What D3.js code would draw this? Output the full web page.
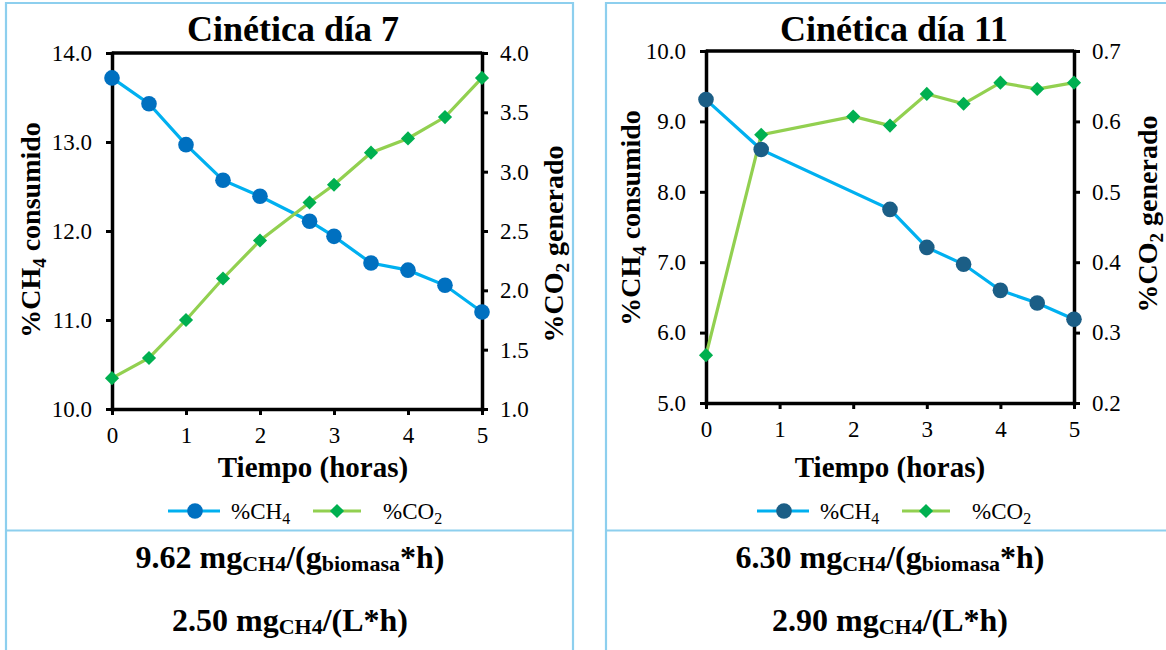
<!DOCTYPE html>
<html>
<head>
<meta charset="utf-8">
<script src="https://cdn.jsdelivr.net/npm/d3@7"></script>
<style>
  body { margin: 0; background: #fff; }
  svg { display: block; }
  svg text { font-family: "Liberation Serif", "Times New Roman", Tinos, "DejaVu Serif", serif; }
</style>
</head>
<body>
<div id="chart"></div>
<script>
let width = 1166,
    height = 650;

// Cinética día 7
const d7Time = [0, 0.5, 1, 1.5, 2, 2.67, 3, 3.5, 4, 4.5, 5];
const d7CH4 = [13.72, 13.43, 12.97, 12.57, 12.39, 12.11, 11.94, 11.64, 11.56, 11.39, 11.09];
const d7CO2 = [1.26, 1.43, 1.75, 2.10, 2.42, 2.74, 2.89, 3.16, 3.28, 3.46, 3.79];

// Cinética día 11
const d11TimeCH4 = [0, 0.75, 2.5, 3, 3.5, 4, 4.5, 5];
const d11CH4 = [9.31, 8.60, 7.75, 7.21, 6.97, 6.60, 6.42, 6.19];
const d11TimeCO2 = [0, 0.75, 2, 2.5, 3, 3.5, 4, 4.5, 5];
const d11CO2 = [0.268, 0.581, 0.607, 0.594, 0.639, 0.625, 0.655, 0.646, 0.655];

// ticks
const xTicks = [0, 1, 2, 3, 4, 5];
const d7LeftTicks = [10, 11, 12, 13, 14];
const d7RightTicks = [1.0, 1.5, 2.0, 2.5, 3.0, 3.5, 4.0];
const d11LeftTicks = [5, 6, 7, 8, 9, 10];
const d11RightTicks = [0.2, 0.3, 0.4, 0.5, 0.6, 0.7];

// texts
const titles = ["Cinética día 7", "Cinética día 11"];
const ratesBiomasa = ["9.62", "6.30"];
const ratesVolumen = ["2.50", "2.90"];

const serif = "Liberation Serif, Times New Roman, Tinos, DejaVu Serif, serif";

const svg = d3.select("#chart")
  .append("svg")
  .attr("width", width)
  .attr("height", height)
  .attr("viewBox", [0, 0, width, height])
  .attr("font-family", serif);

const panels = [
  {
    box: [6, 573], plotX: [112, 482], plotY: [409, 53],
    title: titles[0], titleX: 293,
    time1: d7Time, ch4: d7CH4, time2: d7Time, co2: d7CO2,
    leftDomain: [10, 14], rightDomain: [1, 4],
    leftTicks: d7LeftTicks, rightTicks: d7RightTicks,
    markerCH4: "#0070c0",
    xTitleX: 313, yTitleL: [40, 230], yTitleR: [563, 244],
    legendX: 168, rateX: 290,
    rate1: ratesBiomasa[0], rate2: ratesVolumen[0]
  },
  {
    box: [606, 1172], plotX: [706, 1074], plotY: [403, 51],
    title: titles[1], titleX: 894,
    time1: d11TimeCH4, ch4: d11CH4, time2: d11TimeCO2, co2: d11CO2,
    leftDomain: [5, 10], rightDomain: [0.2, 0.7],
    leftTicks: d11LeftTicks, rightTicks: d11RightTicks,
    markerCH4: "#1b5e86",
    xTitleX: 890, yTitleL: [640, 218], yTitleR: [1157, 214],
    legendX: 757, rateX: 890,
    rate1: ratesBiomasa[1], rate2: ratesVolumen[1]
  }
];

const border = "#8dcfee";

function drawPanel(p) {
  let g = svg.append("g");

  // panel frame
  g.append("path")
    .attr("d", `M${p.box[0]},${height + 5}V3H${p.box[1]}V${height + 5}M${p.box[0]},530.5H${p.box[1]}`)
    .attr("fill", "none")
    .attr("stroke", border)
    .attr("stroke-width", 2.2);

  g.append("text")
    .attr("x", p.titleX)
    .attr("y", 41)
    .attr("text-anchor", "middle")
    .attr("font-size", 36)
    .attr("font-weight", "bold")
    .text(p.title);

  let x = d3.scaleLinear().domain([0, 5]).range(p.plotX);
  let yL = d3.scaleLinear().domain(p.leftDomain).range(p.plotY);
  let yR = d3.scaleLinear().domain(p.rightDomain).range(p.plotY);

  // top frame line
  g.append("line")
    .attr("x1", p.plotX[0]).attr("x2", p.plotX[1])
    .attr("y1", p.plotY[1]).attr("y2", p.plotY[1])
    .attr("stroke", "#000").attr("stroke-width", 3.5);

  let axes = [
    g.append("g")
      .attr("transform", `translate(0,${p.plotY[0]})`)
      .call(d3.axisBottom(x).tickValues(xTicks).tickFormat(d3.format("d"))
        .tickSize(6).tickSizeOuter(0).tickPadding(12)),
    g.append("g")
      .attr("transform", `translate(${p.plotX[0]},0)`)
      .call(d3.axisLeft(yL).tickValues(p.leftTicks).tickFormat(d3.format(".1f"))
        .tickSize(6).tickSizeOuter(0).tickPadding(14)),
    g.append("g")
      .attr("transform", `translate(${p.plotX[1]},0)`)
      .call(d3.axisRight(yR).tickValues(p.rightTicks).tickFormat(d3.format(".1f"))
        .tickSize(6).tickSizeOuter(0).tickPadding(12))
  ];

  for (let a of axes) {
    a.attr("font-family", serif).attr("font-size", 23);
    a.select(".domain").attr("stroke-width", 3.5).attr("stroke-linecap", "square");
    a.selectAll(".tick line").attr("stroke-width", 3);
    a.selectAll(".tick text").attr("fill", "#000");
  }

  let ch4Data = p.time1.map((t, i) => ({ t: t, v: p.ch4[i] }));
  let co2Data = p.time2.map((t, i) => ({ t: t, v: p.co2[i] }));

  g.append("path")
    .datum(ch4Data)
    .attr("fill", "none")
    .attr("stroke", "#00b0f0")
    .attr("stroke-width", 3.2)
    .attr("d", d3.line().x(d => x(d.t)).y(d => yL(d.v)));

  g.append("path")
    .datum(co2Data)
    .attr("fill", "none")
    .attr("stroke", "#92d050")
    .attr("stroke-width", 3.2)
    .attr("d", d3.line().x(d => x(d.t)).y(d => yR(d.v)));

  g.selectAll(".ch4")
    .data(ch4Data)
    .join("circle")
    .attr("cx", d => x(d.t))
    .attr("cy", d => yL(d.v))
    .attr("r", 7.8)
    .attr("fill", p.markerCH4);

  let diamond = d3.symbol(d3.symbolSquare, 100);
  g.selectAll(".co2")
    .data(co2Data)
    .join("path")
    .attr("d", diamond)
    .attr("transform", d => `translate(${x(d.t)},${yR(d.v)}) rotate(45)`)
    .attr("fill", "#00b050");

  // axis titles
  g.append("text")
    .attr("x", p.xTitleX)
    .attr("y", 477)
    .attr("text-anchor", "middle")
    .attr("font-size", 29)
    .attr("font-weight", "bold")
    .text("Tiempo (horas)");

  let yTitle = (pos, main, sub, rest) => {
    let t = g.append("text")
      .attr("transform", `translate(${pos[0]},${pos[1]}) rotate(-90)`)
      .attr("text-anchor", "middle")
      .attr("font-size", 28)
      .attr("font-weight", "bold");
    t.append("tspan").text(main);
    t.append("tspan").attr("font-size", 19).attr("dy", 6).text(sub);
    t.append("tspan").attr("dy", -6).text(rest);
  };
  yTitle(p.yTitleL, "%CH", "4", " consumido");
  yTitle(p.yTitleR, "%CO", "2", " generado");

  // legend
  let lx = p.legendX, ly = 511;
  g.append("line")
    .attr("x1", lx).attr("x2", lx + 52).attr("y1", ly).attr("y2", ly)
    .attr("stroke", "#00b0f0").attr("stroke-width", 3.2);
  g.append("circle").attr("cx", lx + 27).attr("cy", ly).attr("r", 7.8).attr("fill", p.markerCH4);
  let lt1 = g.append("text").attr("x", lx + 63).attr("y", ly + 8).attr("font-size", 23);
  lt1.append("tspan").text("%CH");
  lt1.append("tspan").attr("font-size", 16).attr("dy", 5).text("4");

  g.append("line")
    .attr("x1", lx + 145).attr("x2", lx + 193).attr("y1", ly).attr("y2", ly)
    .attr("stroke", "#92d050").attr("stroke-width", 3.2);
  g.append("path")
    .attr("d", diamond)
    .attr("transform", `translate(${lx + 169},${ly}) rotate(45)`)
    .attr("fill", "#00b050");
  let lt2 = g.append("text").attr("x", lx + 215).attr("y", ly + 8).attr("font-size", 23);
  lt2.append("tspan").text("%CO");
  lt2.append("tspan").attr("font-size", 16).attr("dy", 5).text("2");

  // rates
  let r1 = g.append("text")
    .attr("x", p.rateX).attr("y", 568)
    .attr("text-anchor", "middle")
    .attr("font-size", 32).attr("font-weight", "bold");
  r1.append("tspan").text(p.rate1 + " mg");
  r1.append("tspan").attr("font-size", 22).attr("dy", 3).text("CH4");
  r1.append("tspan").attr("dy", -3).text("/(g");
  r1.append("tspan").attr("font-size", 22).attr("dy", 3).text("biomasa");
  r1.append("tspan").attr("dy", -3).text("*h)");

  let r2 = g.append("text")
    .attr("x", p.rateX).attr("y", 631)
    .attr("text-anchor", "middle")
    .attr("font-size", 32).attr("font-weight", "bold");
  r2.append("tspan").text(p.rate2 + " mg");
  r2.append("tspan").attr("font-size", 22).attr("dy", 3).text("CH4");
  r2.append("tspan").attr("dy", -3).text("/(L*h)");
}

for (let p of panels) drawPanel(p);
</script>
</body>
</html>
